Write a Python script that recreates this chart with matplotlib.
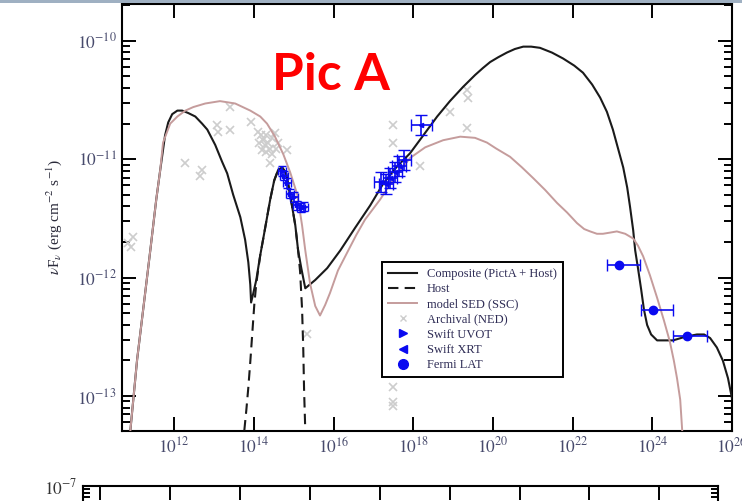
import numpy as np
import matplotlib
matplotlib.use('Agg')
import matplotlib.pyplot as plt
from matplotlib.lines import Line2D
from matplotlib.patches import Rectangle
from matplotlib.ticker import LogLocator, NullLocator, NullFormatter

# all values are log10(nu / Hz) and log10(nuFnu / erg cm^-2 s^-1)
ssc_lognu = [10.90, 11.07, 11.25, 11.40, 11.55, 11.65, 11.72, 11.90, 12.08, 12.28, 12.48, 12.78,
             13.15, 13.53, 13.91, 14.16, 14.33, 14.53, 14.74, 14.91, 15.09, 15.21, 15.29, 15.41,
             15.54, 15.66, 15.79, 15.91, 16.11, 16.37, 16.57, 16.79, 17.17, 17.54, 17.92, 18.30,
             18.75, 19.18, 19.55, 19.85, 20.08, 20.43, 20.73, 21.01, 21.31, 21.61, 21.86, 22.11,
             22.29, 22.44, 22.61, 22.76, 22.94, 23.11, 23.32, 23.52, 23.64, 23.77, 23.94, 24.12,
             24.29, 24.44, 24.54, 24.62, 24.70, 24.75]
ssc_logf = [-13.29, -12.69, -12.19, -11.77, -11.34, -11.09, -10.86, -10.70, -10.64, -10.59, -10.56,
            -10.53, -10.51, -10.53, -10.59, -10.64, -10.70, -10.81, -10.96, -11.11, -11.30, -11.56,
            -11.77, -12.05, -12.24, -12.32, -12.23, -12.13, -11.94, -11.77, -11.64, -11.51, -11.34,
            -11.15, -10.99, -10.90, -10.84, -10.81, -10.82, -10.86, -10.91, -10.98, -11.07, -11.16,
            -11.26, -11.37, -11.45, -11.54, -11.59, -11.61, -11.63, -11.63, -11.62, -11.61, -11.63,
            -11.67, -11.73, -11.82, -11.98, -12.17, -12.36, -12.54, -12.70, -12.85, -13.03, -13.29]

comp_lognu = [10.90, 11.07, 11.25, 11.40, 11.55, 11.65, 11.77, 11.85, 11.95, 12.08, 12.20, 12.35,
              12.53, 12.70, 12.83, 13.03, 13.20, 13.33, 13.48, 13.66, 13.78, 13.86, 13.91, 13.93,
              13.98, 14.06, 14.16, 14.23, 14.31, 14.41, 14.51, 14.61, 14.71, 14.81, 14.91, 15.04,
              15.11, 15.19, 15.29, 15.54, 15.84, 16.17, 16.54, 16.92, 17.24, 17.57, 17.92, 18.25,
              18.60, 18.92, 19.25, 19.55, 19.75, 19.93, 20.13, 20.35, 20.55, 20.76, 20.96, 21.18,
              21.48, 21.76, 22.04, 22.26, 22.49, 22.69, 22.86, 23.01, 23.14, 23.27, 23.37, 23.44,
              23.52, 23.57, 23.64, 23.72, 23.79, 23.87, 23.97, 24.12, 24.32, 24.52, 24.82, 25.12,
              25.30, 25.45, 25.62, 25.77, 25.90, 26.00]
comp_logf = [-13.29, -12.69, -12.19, -11.77, -11.34, -11.09, -10.80, -10.69, -10.62, -10.59, -10.59,
             -10.61, -10.64, -10.70, -10.75, -10.88, -11.02, -11.12, -11.30, -11.49, -11.68, -11.87,
             -12.06, -12.21, -12.14, -12.02, -11.81, -11.68, -11.53, -11.34, -11.18, -11.09, -11.07,
             -11.12, -11.30, -11.56, -11.77, -11.92, -12.09, -12.02, -11.92, -11.77, -11.58, -11.39,
             -11.21, -11.07, -10.95, -10.80, -10.64, -10.51, -10.39, -10.29, -10.23, -10.18, -10.14,
             -10.10, -10.07, -10.05, -10.05, -10.06, -10.10, -10.15, -10.21, -10.27, -10.37, -10.48,
             -10.60, -10.75, -10.91, -11.07, -11.24, -11.40, -11.60, -11.77, -11.92, -12.10, -12.27,
             -12.40, -12.48, -12.53, -12.53, -12.53, -12.50, -12.48, -12.48, -12.51, -12.59, -12.70,
             -12.85, -13.02]

host_lognu = [13.76, 13.81, 13.86, 13.91, 13.96, 14.01, 14.06, 14.16, 14.23, 14.31, 14.41, 14.51,
              14.61, 14.71, 14.81, 14.91, 15.04, 15.11, 15.16, 15.21, 15.24, 15.26, 15.29]
host_logf = [-13.29, -13.12, -12.93, -12.71, -12.47, -12.23, -12.05, -11.81, -11.68, -11.53, -11.34,
             -11.18, -11.09, -11.07, -11.12, -11.30, -11.56, -11.77, -11.95, -12.27, -12.61, -12.95,
             -13.29]

ned_lognu = [10.85, 10.97, 10.92, 12.28, 12.70, 12.65, 13.08, 13.10, 13.41, 13.41, 13.93, 14.11,
             14.18, 14.23, 14.28, 14.21, 14.31, 14.41, 14.36, 14.46, 14.53, 14.61, 14.31, 14.13,
             14.46, 14.56, 14.41, 14.84, 15.34, 17.49, 17.49, 17.49, 17.49, 17.49, 18.17, 18.92,
             19.35, 19.38, 19.35]
ned_logf = [-11.71, -11.66, -11.74, -11.03, -11.09, -11.14, -10.71, -10.77, -10.56, -10.75, -10.69,
            -10.77, -10.80, -10.84, -10.88, -10.92, -10.94, -10.91, -10.86, -10.82, -10.78, -10.86,
            -10.80, -10.86, -10.96, -10.91, -11.03, -10.92, -12.48, -10.71, -10.86, -12.92, -13.05,
            -13.08, -11.06, -10.60, -10.42, -10.48, -10.74]

uvot_lognu = [14.71, 14.76, 14.84, 14.91, 15.01, 15.09, 15.19, 15.26]
uvot_logf = [-11.10, -11.14, -11.20, -11.29, -11.32, -11.39, -11.41, -11.40]
uvot_dx = [0.10, 0.10, 0.10, 0.10, 0.10, 0.10, 0.10, 0.10]
uvot_dy = [0.04, 0.04, 0.04, 0.04, 0.04, 0.04, 0.04, 0.04]

xrt_lognu = [17.19, 17.32, 17.42, 17.54, 17.65, 17.77, 18.20]
xrt_logf = [-11.19, -11.21, -11.16, -11.11, -11.06, -11.01, -10.71]
xrt_dx = [0.18, 0.18, 0.18, 0.18, 0.18, 0.18, 0.26]
xrt_dy = [0.085, 0.085, 0.085, 0.085, 0.085, 0.085, 0.085]

lat_lognu = [23.16, 24.02, 24.87]
lat_logf = [-11.89, -12.27, -12.49]
lat_bin_lo = [22.86, 23.72, 24.53]
lat_bin_hi = [23.69, 24.53, 25.38]

label_col = '#474a6c'
blue = '#0a0af0'

plt.rcParams['mathtext.fontset'] = 'stix'
plt.rcParams['font.family'] = ['Liberation Serif', 'DejaVu Serif']


def lin(v):
    return 10.0 ** np.asarray(v, dtype=float)


def log_err(logv, lo, hi):
    logv = np.asarray(logv, dtype=float)
    v = 10.0 ** logv
    return [v - 10.0 ** (logv - np.asarray(lo)), 10.0 ** (logv + np.asarray(hi)) - v]


fig = plt.figure(figsize=(7.42, 5.01), dpi=100)
ax = fig.add_axes([122 / 742, 1 - 431 / 501, 610 / 742, 427 / 501])

ax.plot(lin(comp_lognu), lin(comp_logf), color='#1a1a1a', lw=1.5, zorder=3)
ax.plot(lin(host_lognu), lin(host_logf), color='#1a1a1a', lw=1.5, ls=(0, (5, 3)), zorder=3)
ax.plot(lin(ssc_lognu), lin(ssc_logf), color='#c59c9c', lw=1.4, zorder=4)
ax.plot(lin(ned_lognu), lin(ned_logf), ls='none', marker='x', ms=6, mew=1.2,
        color='#cdcdcd', zorder=2)

ax.errorbar(lin(uvot_lognu), lin(uvot_logf),
            xerr=log_err(uvot_lognu, uvot_dx, uvot_dx),
            yerr=log_err(uvot_logf, uvot_dy, uvot_dy),
            fmt='>', ms=3, color=blue, ecolor=blue, elinewidth=1.2, capsize=3, zorder=5)
ax.errorbar(lin(xrt_lognu), lin(xrt_logf),
            xerr=log_err(xrt_lognu, xrt_dx, xrt_dx),
            yerr=log_err(xrt_logf, xrt_dy, xrt_dy),
            fmt='<', ms=3, color=blue, ecolor=blue, elinewidth=1.2, capsize=4, zorder=5)
lat_x = lin(lat_lognu)
ax.errorbar(lat_x, lin(lat_logf),
            xerr=[lat_x - lin(lat_bin_lo), lin(lat_bin_hi) - lat_x],
            fmt='o', ms=6, color=blue, ecolor=blue, elinewidth=1.2, capsize=4, zorder=5)

ax.set_xscale('log')
ax.set_yscale('log')
ax.set_xlim(10 ** 10.69, 1e26)
ax.set_ylim(10 ** -13.295, 10 ** -9.69)

xt = list(range(12, 27, 2))
ax.set_xticks([10.0 ** k for k in xt], labels=[f'$10^{{{k}}}$' for k in xt])
ax.xaxis.set_minor_locator(NullLocator())
yt = list(range(-13, -9))
ax.set_yticks([10.0 ** k for k in yt], labels=[f'$10^{{{k}}}$' for k in yt])
ax.yaxis.set_minor_locator(LogLocator(base=10, subs=np.arange(2, 10)))
ax.yaxis.set_minor_formatter(NullFormatter())

ax.tick_params(which='both', direction='in', top=True, right=True, width=1.4,
               labelsize=12.5, labelcolor=label_col)
ax.tick_params(which='major', length=10, pad=4)
ax.tick_params(which='minor', length=5.5)
for s in ax.spines.values():
    s.set_linewidth(1.5)

ax.set_ylabel(r'$\nu$F$_\nu$ (erg cm$^{-2}$ s$^{-1}$)', fontsize=11, color='#2a2a3a', labelpad=9)

handles = [
    Line2D([], [], color='#1a1a1a', lw=1.5),
    Line2D([], [], color='#1a1a1a', lw=1.5, ls=(0, (5, 3))),
    Line2D([], [], color='#c59c9c', lw=1.4),
    Line2D([], [], ls='none', marker='x', ms=5, mew=1, color='#cdcdcd'),
    Line2D([], [], ls='none', marker='>', ms=6, color=blue),
    Line2D([], [], ls='none', marker='<', ms=6, color=blue),
    Line2D([], [], ls='none', marker='o', ms=7, color=blue),
]
names = ['Composite (PictA + Host)', 'Host', 'model SED (SSC)', 'Archival (NED)',
         'Swift UVOT', 'Swift XRT', 'Fermi LAT']
leg = ax.legend(handles, names, loc='upper left', bbox_to_anchor=(382 / 742, 1 - 262 / 501),
                bbox_transform=fig.transFigure, borderaxespad=0, fancybox=False,
                framealpha=1, edgecolor='black', fontsize=9, handlelength=2.3,
                labelspacing=0.25, borderpad=0.5, handletextpad=0.8)
leg.get_frame().set_linewidth(1.4)
for t in leg.get_texts():
    t.set_color('#2e2c55')

fig.text(272 / 742, 1 - 90 / 501, 'Pic A', color='#ff0000', fontsize=37,
         fontweight='bold', family=['Lato', 'DejaVu Sans'], va='baseline', ha='left')

# second panel of the slide, only its top edge shows
ax2 = fig.add_axes([83 / 742, 1 - 486 / 501 - 0.85, 635 / 742, 0.85])
ax2.set_xscale('log')
ax2.set_yscale('log')
ax2.set_xlim(10 ** 9.5, 10 ** 27.68)
ax2.set_ylim(1e-13, 1e-7)
ax2.set_xticks([10.0 ** k for k in range(10, 27, 2)])
ax2.xaxis.set_minor_locator(NullLocator())
ax2.set_yticks([1e-7], labels=['$10^{-7}$'])
ax2.yaxis.set_minor_locator(LogLocator(base=10, subs=np.arange(2, 10)))
ax2.yaxis.set_minor_formatter(NullFormatter())
ax2.tick_params(which='both', direction='in', top=True, right=True, width=1.4,
                labelsize=12.5, labelcolor='#333333', labelbottom=False)
ax2.tick_params(which='major', length=10, pad=4)
ax2.tick_params(which='minor', length=5)
for s in ax2.spines.values():
    s.set_linewidth(1.5)

# slide border at the very top
fig.add_artist(Rectangle((0, 1 - 3 / 501), 1, 3 / 501, transform=fig.transFigure,
                         color='#9fb0c2', lw=0))

fig.savefig('out.png', dpi=100)
